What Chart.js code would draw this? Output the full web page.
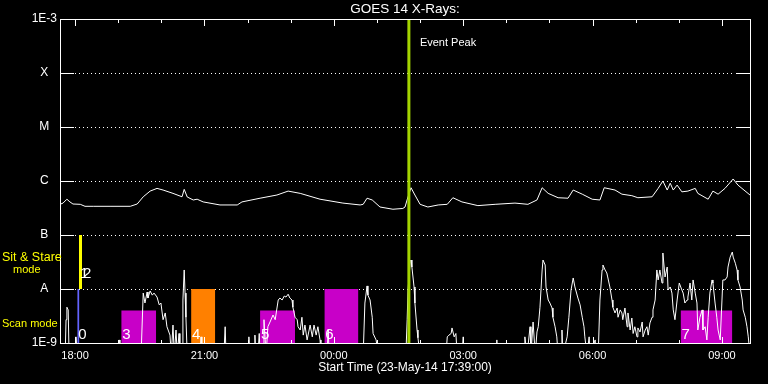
<!DOCTYPE html>
<html>
<head>
<meta charset="utf-8">
<title>GOES 14 X-Rays</title>
<script src="https://cdn.jsdelivr.net/npm/chart.js"></script>
<style>
  body { margin: 0; background: #000; }
  #wrap { width: 768px; height: 384px; }
</style>
</head>
<body>
<div id="wrap"><canvas id="goes" width="768" height="384"></canvas></div>
<script>
// all times are hours after 18:00 on 23-May-14 (plot runs from 17:39)
const startHour = -0.35;
const endHour = 15.65;
const eventPeakHour = 7.74;

// 1-8 A channel (upper curve)
const longTimes = [
  -0.35, -0.28, -0.19, -0.12, -0.05, 0.12, 0.23, 0.42, 0.81, 1.28,
  1.44, 1.58, 1.74, 1.90, 2.04, 2.27, 2.48, 2.53, 2.60, 2.74,
  2.83, 2.97, 3.36, 3.76, 3.87, 4.29, 4.68, 4.94, 5.22, 5.68,
  6.21, 6.61, 6.68, 6.77, 6.89, 7.07, 7.37, 7.60, 7.65, 7.72,
  7.79, 7.88, 8.00, 8.18, 8.42, 8.63, 8.76, 8.97, 9.34, 9.74,
  10.20, 10.50, 10.71, 10.83, 10.97, 11.20, 11.43, 11.55, 11.76, 11.99,
  12.17, 12.27, 12.52, 12.68, 12.91, 13.05, 13.38, 13.52, 13.63, 13.73,
  13.80, 13.87, 13.96, 14.07, 14.21, 14.38, 14.44, 14.68, 14.79, 14.91,
  15.07, 15.26, 15.37, 15.65
];
const longFlux = [
  3.7e-7, 3.9e-7, 4.6e-7, 4.1e-7, 3.75e-7, 3.7e-7, 3.4e-7, 3.4e-7, 3.4e-7, 3.4e-7,
  3.75e-7, 5.1e-7, 6.5e-7, 7.3e-7, 6.8e-7, 5.9e-7, 5.1e-7, 7.0e-7, 5.06e-7, 4.45e-7,
  4.6e-7, 4.1e-7, 3.6e-7, 3.6e-7, 4.1e-7, 4.8e-7, 5.5e-7, 6.5e-7, 5.9e-7, 4.6e-7,
  3.9e-7, 3.6e-7, 3.7e-7, 4.8e-7, 4.45e-7, 3.3e-7, 3.0e-7, 3.1e-7, 3.3e-7, 5.1e-7,
  7.5e-7, 5.5e-7, 3.7e-7, 3.3e-7, 3.6e-7, 3.7e-7, 4.9e-7, 4.1e-7, 3.5e-7, 3.7e-7,
  3.9e-7, 3.7e-7, 4.45e-7, 7.5e-7, 5.9e-7, 4.9e-7, 4.8e-7, 6.8e-7, 5.7e-7, 4.6e-7,
  4.45e-7, 7.5e-7, 6.8e-7, 5.7e-7, 5.35e-7, 4.9e-7, 5.1e-7, 7.3e-7, 1.0e-6, 6.8e-7,
  9.1e-7, 6.8e-7, 8.4e-7, 6.3e-7, 6.5e-7, 7.3e-7, 5.9e-7, 4.6e-7, 6.5e-7, 5.7e-7,
  7.3e-7, 1.09e-6, 8.4e-7, 5.5e-7
];

// 0.5-4 A channel (lower curve)
const shortTimes = [
  -0.35, -0.23, -0.21, -0.19, -0.16, -0.14, 0.00, 0.02, 0.05, 1.00,
  1.02, 1.04, 1.53, 1.58, 1.62, 1.67, 1.69, 1.74, 1.79, 1.83,
  1.90, 1.95, 1.99, 2.04, 2.09, 2.13, 2.20, 2.23, 2.27, 2.30,
  2.34, 2.37, 2.41, 2.43, 2.48, 2.50, 2.53, 2.55, 2.57, 2.60,
  2.90, 2.92, 2.94, 3.45, 3.48, 3.50, 4.01, 4.03, 4.05, 4.15,
  4.17, 4.19, 4.24, 4.27, 4.29, 4.36, 4.38, 4.43, 4.47, 4.52,
  4.59, 4.64, 4.71, 4.75, 4.80, 4.85, 4.89, 4.94, 4.98, 5.03,
  5.05, 5.10, 5.15, 5.17, 5.22, 5.26, 5.29, 5.33, 5.38, 5.45,
  5.50, 5.54, 5.59, 5.63, 5.68, 5.70, 5.84, 5.87, 5.89, 6.68,
  6.72, 6.77, 6.79, 6.84, 6.89, 6.91, 6.98, 7.03, 7.67, 7.70,
  7.72, 7.77, 7.79, 7.81, 7.86, 7.88, 7.93, 7.95, 8.00, 8.60,
  8.63, 8.67, 8.72, 8.74, 8.79, 8.83, 8.86, 8.97, 9.00, 9.02,
  9.76, 9.78, 9.80, 10.41, 10.43, 10.48, 10.55, 10.57, 10.62, 10.67,
  10.71, 10.74, 10.78, 10.83, 10.85, 10.90, 10.92, 10.97, 11.01, 11.06,
  11.08, 11.13, 11.17, 11.20, 11.27, 11.29, 11.31, 11.41, 11.45, 11.50,
  11.55, 11.59, 11.66, 11.71, 11.76, 11.80, 11.82, 11.87, 11.92, 11.94,
  12.06, 12.08, 12.13, 12.17, 12.22, 12.24, 12.29, 12.33, 12.35, 12.40,
  12.45, 12.47, 12.52, 12.57, 12.59, 12.64, 12.68, 12.70, 12.75, 12.80,
  12.82, 12.87, 12.91, 12.94, 12.98, 13.03, 13.05, 13.10, 13.15, 13.17,
  13.22, 13.26, 13.29, 13.33, 13.38, 13.40, 13.45, 13.49, 13.52, 13.56,
  13.61, 13.63, 13.68, 13.73, 13.75, 13.80, 13.84, 13.87, 13.91, 13.96,
  14.01, 14.07, 14.10, 14.14, 14.19, 14.21, 14.26, 14.30, 14.33, 14.38,
  14.42, 14.44, 14.49, 14.54, 14.56, 14.61, 14.65, 14.68, 14.72, 14.77,
  14.79, 14.84, 14.88, 14.91, 14.96, 15.00, 15.02, 15.07, 15.12, 15.14,
  15.19, 15.24, 15.26, 15.31, 15.35, 15.37, 15.42, 15.47, 15.49, 15.54,
  15.58, 15.61, 15.65
];
const shortFlux = [
  6e-10, 6e-10, 2.7e-9, 4.6e-9, 4.1e-9, 6e-10, 6e-10, 1.3e-9, 6e-10, 6e-10,
  1.14e-9, 6e-10, 6e-10, 8.4e-9, 5.5e-9, 8.8e-9, 6.8e-9, 9.2e-9, 7.7e-9, 8.4e-9,
  7.1e-9, 5.1e-9, 5.5e-9, 2.7e-9, 3.6e-9, 2.0e-9, 1.4e-9, 6e-10, 2.15e-9, 6e-10,
  1.74e-9, 6e-10, 1.5e-9, 6e-10, 6e-10, 6.25e-9, 2.25e-8, 8.4e-9, 3.0e-9, 6e-10,
  6e-10, 1.3e-9, 6e-10, 6e-10, 2.0e-9, 6e-10, 6e-10, 1.3e-9, 6e-10, 6e-10,
  1.4e-9, 6e-10, 6e-10, 1.5e-9, 6e-10, 6e-10, 2.7e-9, 6e-10, 2.0e-9, 2.45e-9,
  3.3e-9, 2.7e-9, 6.25e-9, 6.8e-9, 6.25e-9, 7.4e-9, 7.1e-9, 8.0e-9, 6.8e-9, 6.25e-9,
  4.6e-9, 3.0e-9, 2.7e-9, 2.0e-9, 1.74e-9, 3.0e-9, 1.4e-9, 2.15e-9, 1.14e-9, 2.15e-9,
  1.3e-9, 2.15e-9, 1.4e-9, 2.0e-9, 1.14e-9, 6e-10, 6e-10, 1.8e-9, 6e-10, 6e-10,
  5.5e-9, 1.14e-8, 7.7e-9, 6.25e-9, 3.0e-9, 1.5e-9, 1.14e-9, 6e-10, 6e-10, 2.7e-9,
  9.6e-9, 3.2e-8, 3.44e-8, 2.55e-8, 1.09e-8, 5.5e-9, 1.74e-9, 1.25e-9, 6e-10, 6e-10,
  1.3e-9, 1.4e-9, 1.5e-9, 1.9e-9, 1.3e-9, 1.5e-9, 6e-10, 6e-10, 1.3e-9, 6e-10,
  6e-10, 1.14e-9, 6e-10, 6e-10, 1.3e-9, 6e-10, 2.0e-9, 6e-10, 2.45e-9, 6e-10,
  1.6e-9, 2.0e-9, 4.6e-9, 2.25e-8, 3.44e-8, 2.78e-8, 1.09e-8, 6.25e-9, 5.5e-9, 4.45e-9,
  3.0e-9, 2.0e-9, 1.3e-9, 6e-10, 6e-10, 1.74e-9, 6e-10, 1.3e-9, 3.0e-9, 9.6e-9,
  1.6e-8, 1.09e-8, 6.8e-9, 5.1e-9, 3.0e-9, 2.0e-9, 1.3e-9, 6e-10, 1.3e-9, 6e-10,
  1.14e-9, 6e-10, 6e-10, 6.25e-9, 2.25e-8, 2.78e-8, 2.25e-8, 1.98e-8, 1.67e-8, 1.09e-8,
  6.25e-9, 4.6e-9, 3.6e-9, 4.45e-9, 3.0e-9, 4.1e-9, 3.6e-9, 2.7e-9, 4.45e-9, 2.0e-9,
  3.6e-9, 1.74e-9, 2.9e-9, 1.5e-9, 2.0e-9, 1.3e-9, 1.9e-9, 1.6e-9, 2.45e-9, 1.3e-9,
  1.74e-9, 2.0e-9, 1.4e-9, 2.35e-9, 3.0e-9, 4.1e-9, 6.25e-9, 2.25e-8, 1.47e-8, 2.25e-8,
  1.29e-8, 4.64e-8, 1.67e-8, 2.55e-8, 9.6e-9, 1.09e-8, 8.4e-9, 4.1e-9, 2.7e-9, 6.25e-9,
  1.29e-8, 9.6e-9, 8.4e-9, 5.5e-9, 6.25e-9, 7.1e-9, 1.29e-8, 6.25e-9, 1.47e-8, 8.4e-9,
  5.5e-9, 1.74e-9, 3.0e-9, 4.1e-9, 1.74e-9, 2.0e-9, 1.14e-9, 3.0e-9, 8.4e-9, 1.47e-8,
  1.29e-8, 5.5e-9, 3.0e-9, 1.74e-9, 1.14e-9, 6.25e-9, 1.47e-8, 1.47e-8, 1.67e-8, 2.55e-8,
  3.9e-8, 4.84e-8, 3.9e-8, 3.0e-8, 2.25e-8, 1.47e-8, 1.09e-8, 6.25e-9, 4.1e-9, 3.0e-9,
  2.0e-9, 1.3e-9, 6e-10
];

// observation windows
const obsNumber = ['0', '1', '2', '3', '4', '5', '6', '7'];
const obsGroup  = [0, 1, 1, 2, 3, 2, 2, 2];
const obsStart  = [0.05, 0.09, 0.09, 1.07, 2.69, 4.29, 5.78, 14.04];
const obsEnd    = [0.10, 0.16, 0.16, 1.88, 3.25, 5.10, 6.57, 15.24];
const obsLow    = [1e-9, 1e-8, 1e-8, 1e-9, 1e-9, 1e-9, 1e-9, 1e-9];
const obsHigh   = [1e-8, 1e-7, 1e-7, 4e-9, 1e-8, 4e-9, 1e-8, 4e-9];

const xTickHours  = [0, 3, 6, 9, 12, 15];
const xTickLabels = ['18:00', '21:00', '00:00', '03:00', '06:00', '09:00'];
const yTickValues = [1e-9, 1e-8, 1e-7, 1e-6, 1e-5, 1e-4, 1e-3];
const yTickLabels = ['1E-9', 'A', 'B', 'C', 'M', 'X', '1E-3'];

const groupColors = ['#6464ff', '#ffff00', '#c800c8', '#ff8000'];
const FONT = "'Liberation Sans', Arial, sans-serif";

Chart.defaults.font.family = FONT;

const datasets = [];
datasets.push({
  data: [{ x: eventPeakHour, y: 1e-9 }, { x: eventPeakHour, y: 1e-3 }],
  borderColor: '#a4d400', borderWidth: 3, pointRadius: 0, order: 0
});
datasets.push({
  data: longTimes.map((t, i) => ({ x: t, y: longFlux[i] })),
  borderColor: '#fff', borderWidth: 1, pointRadius: 0, order: 1
});
datasets.push({
  data: shortTimes.map((t, i) => ({ x: t, y: shortFlux[i] })),
  borderColor: '#fff', borderWidth: 1, pointRadius: 0, order: 1
});
obsNumber.forEach((n, i) => {
  datasets.push({
    data: [{ x: obsStart[i], y: obsHigh[i] }, { x: obsEnd[i], y: obsHigh[i] }],
    borderColor: 'rgba(0,0,0,0)', borderWidth: 1, pointRadius: 0,
    backgroundColor: groupColors[obsGroup[i]],
    fill: { value: obsLow[i] }, order: 2
  });
});

function seg(ctx, x1, y1, x2, y2) {
  ctx.beginPath(); ctx.moveTo(x1, y1); ctx.lineTo(x2, y2); ctx.stroke();
}

const idlFrame = {
  id: 'idlFrame',
  beforeDatasetsDraw(chart) {
    const { ctx, chartArea: a, scales: { y } } = chart;
    ctx.save();
    ctx.strokeStyle = '#fff';
    ctx.lineWidth = 1;
    yTickValues.slice(1, -1).forEach(v => {
      const py = Math.round(y.getPixelForValue(v)) + 0.5;
      ctx.setLineDash([1, 3]);
      seg(ctx, a.left + 15, py, a.right - 15, py);
    });
    ctx.restore();
  },
  afterDatasetsDraw(chart) {
    const { ctx, chartArea: a, scales: { x, y } } = chart;
    ctx.save();
    ctx.strokeStyle = '#fff';
    ctx.lineWidth = 1;
    ctx.strokeRect(a.left + 0.5, a.top + 0.5, a.right - a.left, a.bottom - a.top);
    // decade ticks, both sides
    yTickValues.slice(1, -1).forEach(v => {
      const py = Math.round(y.getPixelForValue(v)) + 0.5;
      seg(ctx, a.left, py, a.left + 14, py);
      seg(ctx, a.right - 14, py, a.right + 1, py);
    });
    // hourly ticks, longer every 3 h
    for (let h = Math.ceil(startHour); h <= endHour; h++) {
      const px = Math.round(x.getPixelForValue(h)) + 0.5;
      const len = h % 3 === 0 ? 7 : 4;
      seg(ctx, px, a.top, px, a.top + len);
      seg(ctx, px, a.bottom + 1, px, a.bottom + 1 - len);
    }

    // observation numbers
    ctx.fillStyle = '#fff';
    ctx.font = '15px ' + FONT;
    ctx.textBaseline = 'alphabetic';
    ctx.textAlign = 'left';
    obsNumber.forEach((n, i) => {
      const dup = obsStart.slice(0, i).filter(s => s === obsStart[i]).length;
      const px = x.getPixelForValue(obsStart[i]) + 1 + dup * 3;
      const py = y.getPixelForValue(obsLow[i]) - (obsGroup[i] === 1 ? 11 : 4);
      ctx.fillText(n, px, py);
    });

    // event marker text
    ctx.font = '11px ' + FONT;
    ctx.textBaseline = 'middle';
    ctx.fillText('Event Peak', x.getPixelForValue(eventPeakHour) + 11, a.top + 24);

    // mode captions
    ctx.fillStyle = '#ffff00';
    const yA = y.getPixelForValue(1e-8), yB = y.getPixelForValue(1e-7);
    ctx.font = '12.5px ' + FONT;
    ctx.fillText('Sit & Stare', 2, yB + 23);
    ctx.font = '11px ' + FONT;
    ctx.fillText('mode', 13, yB + 35);
    ctx.fillText('Scan mode', 2, yA + 35);
    ctx.restore();
  }
};

new Chart(document.getElementById('goes'), {
  type: 'line',
  data: { datasets },
  options: {
    responsive: false,
    animation: false,
    layout: { padding: { right: 18 } },
    plugins: {
      legend: { display: false },
      tooltip: { enabled: false },
      title: {
        display: true,
        fullSize: false,
        text: 'GOES 14 X-Rays:',
        color: '#fff',
        font: { size: 13.5, weight: 'normal', lineHeight: '14px' },
        padding: { top: 2, bottom: 3 }
      }
    },
    scales: {
      x: {
        type: 'linear',
        min: startHour,
        max: endHour,
        grid: { display: false, drawTicks: false },
        border: { display: false },
        afterBuildTicks: s => { s.ticks = xTickHours.map(v => ({ value: v })); },
        afterFit: s => { s.height = 41; },
        ticks: {
          color: '#fff', font: { size: 11 }, padding: 6,
          autoSkip: false, maxRotation: 0,
          callback: v => xTickLabels[xTickHours.indexOf(v)]
        },
        title: {
          display: true, text: 'Start Time (23-May-14 17:39:00)', color: '#fff',
          font: { size: 12 }, padding: { top: 0, bottom: 9 }
        }
      },
      y: {
        type: 'logarithmic',
        min: 1e-9,
        max: 1e-3,
        grid: { display: false, drawTicks: false },
        border: { display: false },
        afterBuildTicks: s => { s.ticks = yTickValues.map(v => ({ value: v })); },
        afterFit: s => { s.width = 60; },
        ticks: {
          color: '#fff', font: { size: 12 }, padding: 3, crossAlign: 'center',
          callback: v => yTickLabels[yTickValues.indexOf(v)]
        }
      }
    }
  },
  plugins: [idlFrame]
});
</script>
</body>
</html>
